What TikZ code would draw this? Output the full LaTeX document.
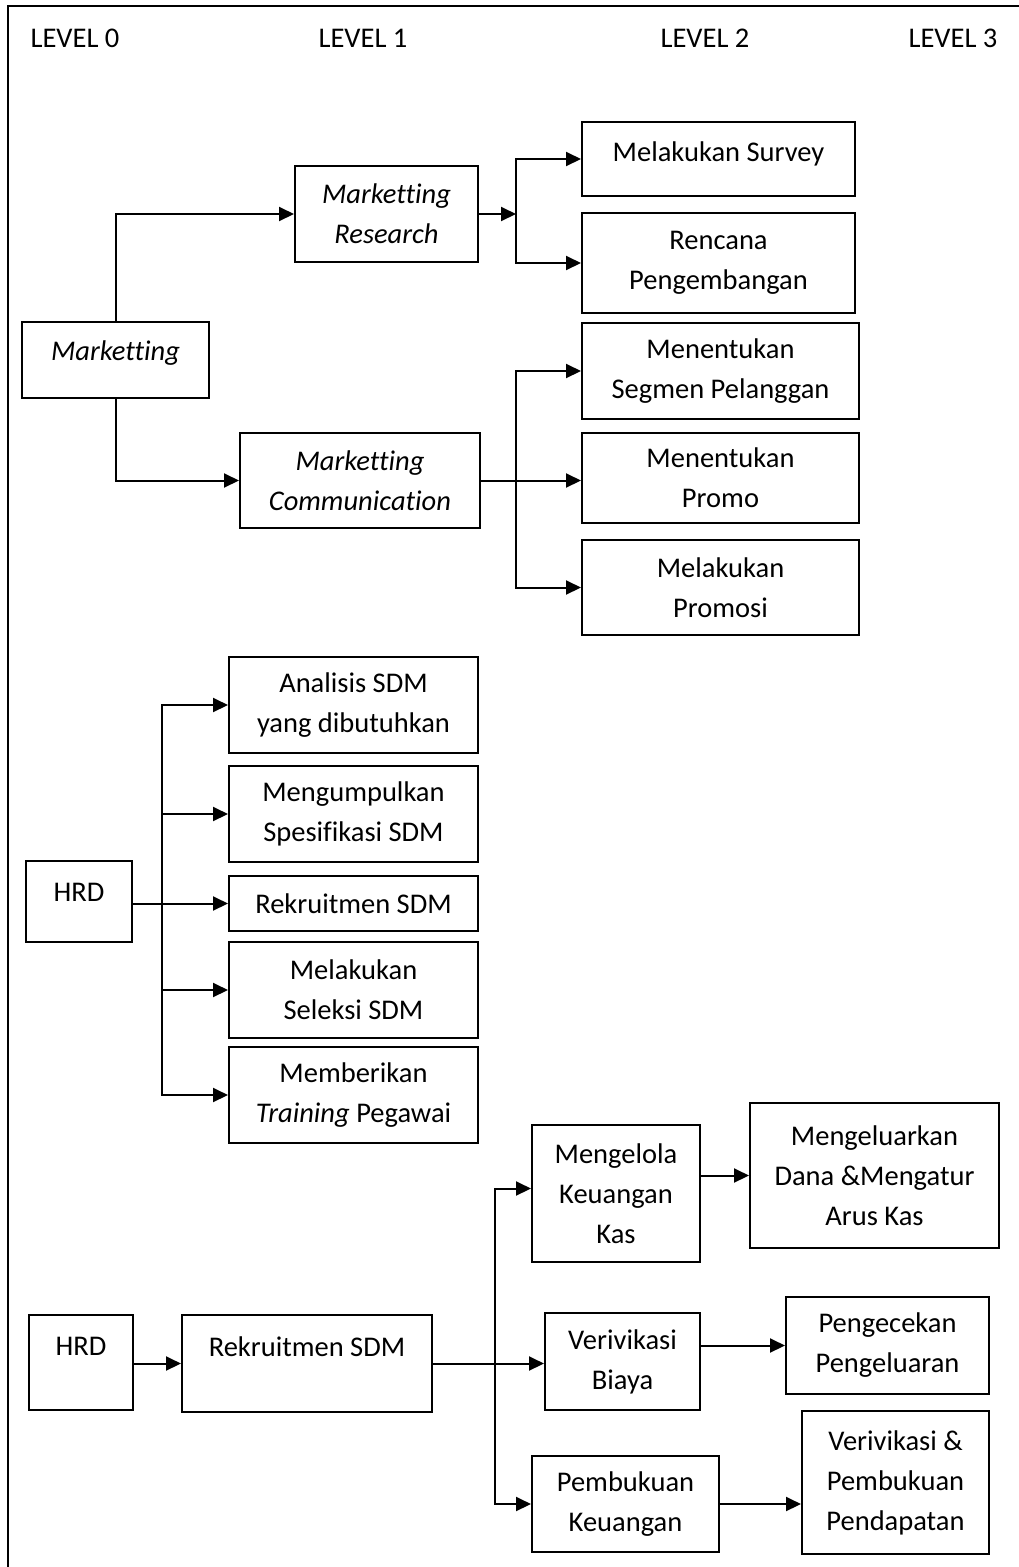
\documentclass[tikz,border=0pt]{standalone}
\usepackage{fontspec}
\setmainfont{Carlito}[Ligatures=NoCommon]
\usetikzlibrary{arrows.meta}
\tikzset{
  box/.style={draw=black,line width=2pt,align=center,inner sep=0pt},
  upper/.style={text height=20pt,text depth=#1},
  level/.style={inner sep=0pt},
  arrow/.style={-{Triangle[length=15pt,width=14pt]},line width=2pt},
  frame/.style={line width=2pt}
}
\begin{document}
\begin{tikzpicture}[x=1pt,y=-1pt,font=\fontsize{28.5}{40}\selectfont]
  \useasboundingbox (0,0) rectangle (1019,1567);
  \draw[frame] (8,1567) -- (8,6) -- (1019,6);
  \node[level] (lvl0) at (75,38) {LEVEL 0};
  \node[level] (lvl1) at (363,38) {LEVEL 1};
  \node[level] (lvl2) at (705,38) {LEVEL 2};
  \node[level] (lvl3) at (953,38) {LEVEL 3};
  % marketing
  \node[box,upper=20pt,minimum width=187pt,minimum height=76pt] (mkt) at (115.5,360) {\itshape Marketting};
  \node[box,minimum width=183pt,minimum height=96pt] (mres) at (386.5,214) {\itshape Marketting\\\itshape Research};
  \node[box,minimum width=240pt,minimum height=95pt] (mcom) at (360,480.5) {\itshape Marketting\\\itshape Communication};
  \node[box,upper=16pt,minimum width=273pt,minimum height=74pt] (survey) at (718.5,159) {Melakukan Survey};
  \node[box,minimum width=273pt,minimum height=100pt] (rencana) at (718.5,263) {Rencana\\Pengembangan};
  \node[box,minimum width=277pt,minimum height=96pt] (segmen) at (720.5,371) {Menentukan\\Segmen Pelanggan};
  \node[box,minimum width=277pt,minimum height=90pt] (promo) at (720.5,478) {Menentukan\\Promo};
  \node[box,minimum width=277pt,minimum height=95pt] (promosi) at (720.5,587.5) {Melakukan\\Promosi};
  \coordinate (forkA) at (516,214);
  \coordinate (forkB) at (516,480.5);
  \draw[arrow] (mkt.north) |- (mres.west);
  \draw[arrow] (mkt.south) |- (mcom.west);
  \draw[arrow] (mres.east) -- (forkA);
  \draw[arrow] (forkA) |- (survey.west);
  \draw[arrow] (forkA) |- (rencana.west);
  \draw[arrow] (mcom.east) -- (mcom.east -| promo.west);
  \draw[arrow] (forkB) |- (segmen.west);
  \draw[arrow] (forkB) |- (promosi.west);
  % hrd
  \node[box,upper=20pt,minimum width=106pt,minimum height=81pt] (hrdA) at (79,901.5) {HRD};
  \node[box,minimum width=249pt,minimum height=96pt] (analisis) at (353.5,705) {Analisis SDM\\yang dibutuhkan};
  \node[box,minimum width=249pt,minimum height=96pt] (spesifikasi) at (353.5,814) {Mengumpulkan\\Spesifikasi SDM};
  \node[box,minimum width=249pt,minimum height=55pt] (rekrutA) at (353.5,903.5) {Rekruitmen SDM};
  \node[box,minimum width=249pt,minimum height=96pt] (seleksi) at (353.5,990) {Melakukan\\Seleksi SDM};
  \node[box,minimum width=249pt,minimum height=96pt] (training) at (353.5,1095) {Memberikan\\\textit{Training} Pegawai};
  \coordinate (forkC) at (162,903.5);
  \draw[arrow] (hrdA.east |- rekrutA) -- (rekrutA.west);
  \draw[arrow] (forkC) |- (analisis.west);
  \draw[arrow] (forkC) |- (spesifikasi.west);
  \draw[arrow] (forkC) |- (seleksi.west);
  \draw[arrow] (forkC) |- (training.west);
  % keuangan
  \node[box,upper=34pt,minimum width=104pt,minimum height=95pt] (hrdB) at (81,1362.5) {HRD};
  \node[box,upper=34pt,minimum width=250pt,minimum height=97pt] (rekrutB) at (307,1363.5) {Rekruitmen SDM};
  \node[box,minimum width=168pt,minimum height=137pt] (kelola) at (616,1193.5) {Mengelola\\Keuangan\\Kas};
  \node[box,minimum width=249pt,minimum height=145pt] (dana) at (874.5,1175.5) {Mengeluarkan\\Dana \&Mengatur\\Arus Kas};
  \node[box,minimum width=155pt,minimum height=97pt] (biaya) at (622.5,1361.5) {Verivikasi\\Biaya};
  \node[box,minimum width=203pt,minimum height=97pt] (cek) at (887.5,1345.5) {Pengecekan\\Pengeluaran};
  \node[box,minimum width=187pt,minimum height=96pt] (buku) at (625.5,1504) {Pembukuan\\Keuangan};
  \node[box,minimum width=187pt,minimum height=143pt] (pendapatan) at (895.5,1482.5) {Verivikasi \&\\Pembukuan\\Pendapatan};
  \coordinate (forkD) at (495,1363.5);
  \draw[arrow] (hrdB.east |- rekrutB) -- (rekrutB.west);
  \draw[arrow] (rekrutB.east) -- (rekrutB.east -| biaya.west);
  \draw[arrow] (forkD) |- ([yshift=5pt]kelola.west);
  \draw[arrow] (forkD) |- (buku.west);
  \draw[arrow] (dana.west -| kelola.east) -- (dana.west);
  \draw[arrow] (cek.west -| biaya.east) -- (cek.west);
  \draw[arrow] (buku.east) -- (buku.east -| pendapatan.west);
\end{tikzpicture}
\end{document}
